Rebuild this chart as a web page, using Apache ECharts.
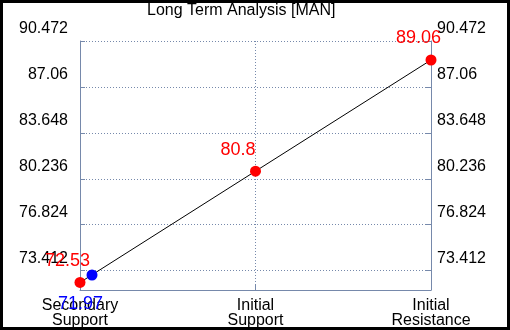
<!DOCTYPE html>
<html>
<head>
<meta charset="utf-8">
<script src="https://cdn.jsdelivr.net/npm/echarts@6/dist/echarts.min.js"></script>
<style>
  html, body { margin: 0; padding: 0; background: #fff; }
  #chart { width: 510px; height: 330px; }
</style>
</head>
<body>
<div id="chart"></div>
<script>
const categories = ['Secondary\nSupport', 'Initial\nSupport', 'Initial\nResistance']
const levelValues = [72.53, 80.8, 89.06]
const secondaryLow = 71.97
const yTicks = [73.412, 76.824, 80.236, 83.648, 87.06, 90.472]
const yMin = 71.97
const yMax = 90.472

const font = 'Liberation Sans, Arial, sans-serif'
const gridColor = '#7689ab'

const chart = echarts.init(document.getElementById('chart'))

const yAxisBase = (position, labelAlign, margin) => ({
  type: 'value',
  position: position,
  min: yMin,
  max: yMax,
  axisLine: { show: true, lineStyle: { color: gridColor, width: 1 } },
  axisTick: {
    show: true,
    inside: true,
    length: 5,
    customValues: yTicks,
    lineStyle: { color: gridColor },
  },
  axisLabel: {
    customValues: yTicks,
    color: '#000',
    fontFamily: font,
    fontSize: 16,
    align: labelAlign,
    margin: margin,
    verticalAlign: 'bottom',
    lineHeight: 18,
    padding: [0, 0, 3, 0],
    formatter: (v) => String(v),
  },
  splitLine: {
    show: true,
    lineStyle: { color: gridColor, type: [1, 2], width: 1 },
  },
})

const option = {
  animation: false,
  backgroundColor: '#fff',
  title: {
    text: 'Long Term Analysis [MAN]',
    left: 147,
    top: 3,
    padding: 0,
    textStyle: {
      fontFamily: font,
      fontSize: 16,
      fontWeight: 'normal',
      color: '#000',
    },
  },
  grid: {
    left: 80,
    right: 79,
    top: 41,
    bottom: 40,
    containLabel: false,
  },
  xAxis: {
    type: 'category',
    data: categories,
    boundaryGap: false,
    axisLine: { show: true, lineStyle: { color: gridColor } },
    axisTick: { show: true, inside: true, length: 5, lineStyle: { color: gridColor } },
    axisLabel: {
      color: '#000',
      fontFamily: font,
      fontSize: 16,
      lineHeight: 15,
      margin: 8,
      interval: 0,
    },
    splitLine: {
      show: true,
      lineStyle: { color: gridColor, type: [1, 2], width: 1 },
    },
  },
  yAxis: [
    yAxisBase('left', 'right', 12),
    yAxisBase('right', 'left', 6),
  ],
  graphic: [
    {
      type: 'rect',
      shape: { x: 0, y: 0, width: 510, height: 330 },
      style: { fill: 'none', stroke: '#000', lineWidth: 6 },
      z: 100,
    },
  ],
  series: [
    {
      name: 'Levels',
      type: 'line',
      data: levelValues,
      symbol: 'circle',
      symbolSize: 11,
      lineStyle: { color: '#000', width: 1 },
      itemStyle: { color: '#ff0000' },
      label: {
        show: true,
        position: 'top',
        align: 'left',
        offset: [-35, -2],
        color: '#ff0000',
        fontFamily: font,
        fontSize: 18,
      },
      z: 3,
    },
    {
      name: 'Secondary Low',
      type: 'line',
      data: [[categories[0], secondaryLow]],
      symbol: 'circle',
      symbolSize: 11,
      symbolOffset: [12, -15],
      lineStyle: { opacity: 0 },
      itemStyle: { color: '#0000ff' },
      label: {
        show: true,
        position: 'bottom',
        align: 'left',
        offset: [-34, 10],
        color: '#0000ff',
        fontFamily: font,
        fontSize: 18,
      },
      clip: false,
      z: 4,
    },
  ],
}

chart.setOption(option)
</script>
</body>
</html>
